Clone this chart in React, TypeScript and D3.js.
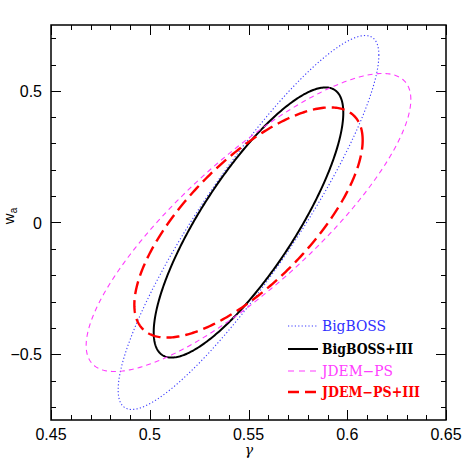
import { useEffect, useRef } from 'react'
import * as d3 from 'd3'

// Fisher ellipses: centre, half-extent in each parameter, correlation
const names = ['BigBOSS', 'BigBOSS+III', 'JDEM\u2212PS', 'JDEM\u2212PS+III']
const centerGamma = [0.55, 0.55, 0.55, 0.55]
const centerWa = [0.0, 0.0, 0.0, 0.0]
const extentGamma = [0.066, 0.048, 0.0822, 0.0578]
const extentWa = [0.71, 0.513, 0.566, 0.437]
const rho = [0.895, 0.812, 0.825, 0.715]

const xTicks = [0.45, 0.5, 0.55, 0.6, 0.65]
const yTicks = [-0.5, 0, 0.5]

const colors = ['#3b3bff', '#000000', '#ff3dff', '#ff0000']
const textColors = ['#2f2fff', '#000000', '#ff3dff', '#ff0000']
const widths = [1.1, 2, 1.1, 2.4]
const dashes = ['1.2,2.2', null, '5,4', '13,6']
const legendDashes = ['1.2,2.2', null, '6,5', '11,6']
const legendWidths = [64, 91, 71, 98]
const bold = [false, true, false, true]

export default function App() {
  const ref = useRef<SVGSVGElement>(null)

  useEffect(() => {
    const svg = d3.select(ref.current)
    svg.selectAll('*').remove()

    const left = 51, right = 446, top = 25, bottom = 420
    const x = d3.scaleLinear().domain([0.45, 0.65]).range([left, right])
    const y = d3.scaleLinear().domain([-0.75, 0.75]).range([bottom, top])

    const g = svg.append('g')

    // ticks on all four sides, pointing inward
    const minorX = d3.range(0.45, 0.6501, 0.01)
    const minorY = d3.range(-0.7, 0.7001, 0.1)
    const tickG = g.append('g').attr('stroke', '#000').attr('stroke-width', 1)
    minorX.forEach(v => {
      const major = xTicks.some(t => Math.abs(t - v) < 1e-6)
      const len = major ? 10 : 5
      const px = Math.round(x(v)) + 0.5
      tickG.append('line').attr('x1', px).attr('x2', px).attr('y1', bottom).attr('y2', bottom - len)
      tickG.append('line').attr('x1', px).attr('x2', px).attr('y1', top).attr('y2', top + len)
    })
    minorY.forEach(v => {
      const major = yTicks.some(t => Math.abs(t - v) < 1e-6)
      const len = major ? 10 : 5
      const py = Math.round(y(v)) + 0.5
      tickG.append('line').attr('x1', left).attr('x2', left + len).attr('y1', py).attr('y2', py)
      tickG.append('line').attr('x1', right).attr('x2', right - len).attr('y1', py).attr('y2', py)
    })

    g.append('rect')
      .attr('x', left).attr('y', top)
      .attr('width', right - left).attr('height', bottom - top)
      .attr('fill', 'none').attr('stroke', '#000').attr('stroke-width', 1.5)

    // tick labels
    const fmt = (v: number) => (v < 0 ? '\u2212' : '') + String(Math.abs(v))
    g.selectAll('.xl').data(xTicks).enter().append('text')
      .attr('x', d => x(d)).attr('y', 440)
      .attr('text-anchor', 'middle')
      .style('font-family', '"Liberation Sans", Arial, sans-serif')
      .style('font-size', '16px')
      .text(d => fmt(d))
    g.selectAll('.yl').data(yTicks).enter().append('text')
      .attr('x', 42).attr('y', d => y(d) + 6)
      .attr('text-anchor', 'end')
      .style('font-family', '"Liberation Sans", Arial, sans-serif')
      .style('font-size', '16px')
      .text(d => fmt(d))

    // axis titles
    g.append('text')
      .attr('x', 249).attr('y', 455)
      .attr('text-anchor', 'middle')
      .style('font-family', '"DejaVu Serif", serif')
      .style('font-style', 'italic')
      .style('font-size', '14px')
      .text('\u03b3')
    const yl = g.append('text')
      .attr('transform', 'translate(14,216) rotate(-90)')
      .attr('text-anchor', 'middle')
      .style('font-family', '"Liberation Sans", Arial, sans-serif')
      .style('font-size', '15px')
    yl.append('tspan').text('w')
    yl.append('tspan').attr('dy', 3).style('font-size', '10px').text('a')

    // ellipses
    const angles = d3.range(0, 361, 1).map(a => (a * Math.PI) / 180)
    const line = d3.line<[number, number]>().x(d => x(d[0])).y(d => y(d[1])).curve(d3.curveLinearClosed)
    names.forEach((_, i) => {
      const pts: [number, number][] = angles.map(t => [
        centerGamma[i] + extentGamma[i] * Math.cos(t),
        centerWa[i] + extentWa[i] * (rho[i] * Math.cos(t) + Math.sqrt(1 - rho[i] * rho[i]) * Math.sin(t)),
      ])
      const p = g.append('path')
        .attr('d', line(pts))
        .attr('fill', 'none')
        .attr('stroke', colors[i])
        .attr('stroke-width', widths[i])
      if (dashes[i]) p.attr('stroke-dasharray', dashes[i])
    })

    // legend
    const legY = [326, 349, 371, 392]
    names.forEach((n, i) => {
      const l = g.append('line')
        .attr('x1', 288).attr('x2', 318)
        .attr('y1', legY[i]).attr('y2', legY[i])
        .attr('stroke', colors[i])
        .attr('stroke-width', widths[i])
      if (legendDashes[i]) l.attr('stroke-dasharray', legendDashes[i])
      g.append('text')
        .attr('x', 322).attr('y', legY[i] + 5)
        .attr('textLength', legendWidths[i])
        .attr('lengthAdjust', 'spacingAndGlyphs')
        .style('font-family', '"DejaVu Serif", serif')
        .style('font-size', '14px')
        .style('font-weight', bold[i] ? 'bold' : 'normal')
        .attr('fill', textColors[i])
        .text(n)
    })
  }, [])

  return (
    <svg ref={ref} width={471} height={471}
      style={{ position: 'absolute', left: 0, top: 0, background: '#fff' }} />
  )
}
